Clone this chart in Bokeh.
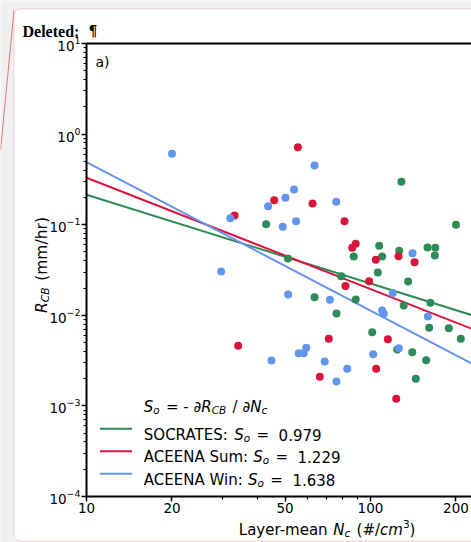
import math
import re
from bokeh.plotting import figure
from bokeh.models import (Range1d, FixedTicker, LogAxis, LogTickFormatter, BasicTickFormatter,
                          Label, BoxAnnotation, Arrow)
from bokeh.embed import file_html
from bokeh.resources import INLINE

# ---------------- data ----------------
soc_nc = [42.9, 128.5, 200.0, 51.2, 107.3, 87.3, 109.9, 126.2, 158.8, 169.1, 168.5, 106.1, 135.7,
          78.9, 63.5, 88.7, 130.9, 162.5, 75.9, 101.4, 160.9, 188.7, 208.0, 124.2, 140.3, 157.0, 144.4]
soc_r = [0.101, 0.298, 0.100, 0.0424, 0.0585, 0.0446, 0.0446, 0.0515, 0.056, 0.0556, 0.0457, 0.0297, 0.0236,
         0.027, 0.0158, 0.0149, 0.0128, 0.0138, 0.0105, 0.0065, 0.0073, 0.0072, 0.0055, 0.0042, 0.0039, 0.0032, 0.0020]

sum_nc = [33.2, 55.5, 45.8, 62.5, 81.0, 86.2, 88.7, 104.4, 125.5, 142.9, 81.6, 98.9, 71.3, 66.3,
          115.1, 104.7, 123.2, 34.2]
sum_r = [0.1265, 0.717, 0.186, 0.171, 0.109, 0.0556, 0.0615, 0.041, 0.0449, 0.0386, 0.0211, 0.0238, 0.0055,
         0.0021, 0.00545, 0.00257, 0.0012, 0.0046]

win_nc = [20.0, 32.1, 43.6, 50.2, 53.8, 49.1, 54.7, 63.5, 75.7, 140.6, 29.8, 51.3, 44.8, 55.9, 58.2, 59.4,
          69.0, 82.8, 75.9, 102.2, 125.8, 71.9, 109.9, 111.4, 119.8, 159.2]
win_r = [0.606, 0.118, 0.160, 0.198, 0.245, 0.0948, 0.109, 0.45, 0.179, 0.0485, 0.0304, 0.017, 0.00317,
         0.00382, 0.00382, 0.00438, 0.00309, 0.00257, 0.00186, 0.00372, 0.00433, 0.0148, 0.0113, 0.0104,
         0.0176, 0.0097]

fit_names = ["SOCRATES", "ACEENA Sum", "ACEENA Win"]
fit_slope = [0.979, 1.229, 1.638]
fit_r_at10 = [0.214, 0.33, 0.49]      # fitted R_CB at N_c = 10
fit_nc_span = [10, 600]
colors = ["seagreen", "crimson", "cornflowerblue"]

x_major = [10, 20, 50, 100, 200]
x_minor = [30, 40, 60, 70, 80, 90, 300, 400]
y_major = [1e-4, 1e-3, 1e-2, 1e-1, 1e0, 1e1]
y_minor = [m * 10.0 ** e for e in range(-4, 1) for m in range(2, 10)]
x_axis_lo, y_axis_lo, y_axis_hi = 10, 1e-4, 10

# ---------------- layout constants ----------------
W, H = 471, 542
FL, FT, FB = 86, 43, 496          # axes box (canvas px)
DEC_X = 284.0                      # px per decade (x)
DEC_Y = (FB - FT) / 5.0            # px per decade (y)
x_lo = 10 ** (1 - FL / DEC_X)
x_hi = 10 ** (1 + (W - FL) / DEC_X)
y_hi = 10 ** (1 + FT / DEC_Y)
y_lo = 10 ** (-4 - (H - FB) / DEC_Y)
PINK = "#e57373"
GREY = "#f0f0f0"
FONT = "DejaVu Sans"

p = figure(width=W, height=H, x_axis_type="log", y_axis_type="log",
           x_range=Range1d(x_lo, x_hi), y_range=Range1d(y_lo, y_hi),
           output_backend="svg", toolbar_location=None,
           min_border=0, min_border_left=0, min_border_right=0, min_border_top=0, min_border_bottom=0,
           background_fill_color=GREY, border_fill_color=GREY,
           outline_line_color=None)
p.xgrid.grid_line_color = None
p.ygrid.grid_line_color = None

xa = p.xaxis[0]
xa.ticker = FixedTicker(ticks=x_major, minor_ticks=x_minor)
xa.formatter = BasicTickFormatter()
xa.fixed_location = y_axis_lo
xa.bounds = (x_axis_lo, x_hi)
ya = p.yaxis[0]
ya.ticker = FixedTicker(ticks=y_major, minor_ticks=y_minor)
ya.formatter = LogTickFormatter()
ya.fixed_location = x_axis_lo
ya.bounds = (y_axis_lo, y_axis_hi)
for ax in (xa, ya):
    ax.axis_line_width = 2
    ax.axis_line_color = "black"
    ax.major_tick_line_width = 1.5
    ax.minor_tick_line_width = 1.2
    ax.major_tick_out = 5
    ax.major_tick_in = 0
    ax.minor_tick_out = 3
    ax.minor_tick_in = 0
    ax.major_label_text_font = FONT
    ax.major_label_text_font_size = "13.5px"
    ax.major_label_text_color = "black"
    ax.major_label_standoff = 1

top = LogAxis(ticker=FixedTicker(ticks=[]), axis_line_width=2, axis_line_color="black",
              major_tick_out=0, minor_tick_out=0, major_label_text_font_size="0px",
              fixed_location=y_axis_hi, bounds=(x_axis_lo, x_hi))
p.add_layout(top, "above")


def sx(cx):
    return cx


def sy(cy):
    return H - cy


# comment box (white, pink rounded border) and its connector
p.add_layout(BoxAnnotation(left=sx(13.5), right=sx(800), top=sy(8.5), bottom=sy(540.5),
                           left_units="screen", right_units="screen", top_units="screen", bottom_units="screen",
                           fill_color="white", fill_alpha=1.0, line_color=PINK, line_width=1,
                           border_radius=6, level="underlay"))
p.add_layout(Arrow(end=None, x_start=sx(13.5), y_start=sy(10), x_end=sx(0), y_end=sy(150),
                   start_units="screen", end_units="screen", line_color=PINK, line_width=1))

# ---------------- glyphs ----------------
for slope, a, c in zip(fit_slope, fit_r_at10, colors):
    ys = [a * (x / 10.0) ** (-slope) for x in fit_nc_span]
    p.line(fit_nc_span, ys, line_color=c, line_width=2)

p.scatter(soc_nc, soc_r, size=8, fill_color=colors[0], line_color=None)
p.scatter(sum_nc, sum_r, size=8, fill_color=colors[1], line_color=None)
p.scatter(win_nc, win_r, size=8, fill_color=colors[2], line_color=None)

# ---------------- texts ----------------
EM = {' ': 0.318, '.': 0.318, ':': 0.337, '=': 0.838, '-': 0.361, '/': 0.337, '(': 0.390, ')': 0.390,
      '#': 0.838, 'A': 0.684, 'B': 0.686, 'C': 0.698, 'E': 0.632, 'L': 0.557, 'N': 0.748, 'O': 0.787,
      'R': 0.695, 'S': 0.635, 'T': 0.611, 'W': 0.989, 'a': 0.613, 'c': 0.550, 'e': 0.615, 'h': 0.634,
      'i': 0.278, 'm': 0.974, 'n': 0.634, 'o': 0.612, 'r': 0.411, 'u': 0.634, 'y': 0.592, '\u2202': 0.519}
for d in "0123456789":
    EM[d] = 0.636
SUB_KERN = 1.5


def tw(s, size):
    return sum(EM.get(ch, 0.6) for ch in s) * size


def rich(cx, cy, pieces, rotated=False):
    for text, size, style, shift in pieces:
        for m in re.finditer(r"\S+(?: \S+)*", text):
            off = tw(text[:m.start()], size)
            if rotated:
                x, y, ang = cx + shift, cy - off, math.pi / 2
            else:
                x, y, ang = cx + off, cy + shift, 0
            p.add_layout(Label(x=sx(x), y=sy(y), x_units="screen", y_units="screen", text=m.group(0),
                               angle=ang, text_font=FONT, text_font_size=f"{size}px",
                               text_font_style=style, text_color="black",
                               text_baseline="alphabetic", text_align="left"))
        adv = tw(text, size) + (SUB_KERN if shift > 0 else 0)
        if rotated:
            cy -= adv
        else:
            cx += adv


FS, SS = 15, 10.5
# legend title
rich(143.3, 406, [("S", FS, "italic", 0), ("o", SS, "italic", 3), (" = - ", FS, "normal", 0),
                  ("\u2202R", FS, "italic", 0), ("CB", SS, "italic", 3), (" / ", FS, "normal", 0),
                  ("\u2202N", FS, "italic", 0), ("c", SS, "italic", 3)])
# legend entries
for i, (name, slope, c) in enumerate(zip(fit_names, fit_slope, colors)):
    base = 434 + 22.5 * i
    p.add_layout(Arrow(end=None, x_start=sx(99.5), y_start=sy(base - 5.7), x_end=sx(131.5), y_end=sy(base - 5.7),
                       start_units="screen", end_units="screen", line_color=c, line_width=2))
    rich(143.3, base, [(f"{name}: ", FS, "normal", 0), ("S", FS, "italic", 0), ("o", SS, "italic", 3),
                       (f" =  {slope:.3f}", FS, "normal", 0)])

# axis labels
rich(238.3, 529, [("Layer-mean ", FS, "normal", 0), ("N", FS, "italic", 0), ("c", SS, "italic", 3),
                  (" (#/", FS, "normal", 0), ("cm", FS, "italic", 0), ("3", SS, "normal", -6),
                  (")", FS, "normal", 0)])
YS, YSS = 15.5, 10.85
rich(41.5, 312.5, [("R", YS, "italic", 0), ("CB", YSS, "italic", 3), (" (mm/hr)", YS, "normal", 0)],
     rotated=True)

# panel label and comment header
p.add_layout(Label(x=sx(95), y=sy(61.5), x_units="screen", y_units="screen", text="a)",
                   text_font=FONT, text_font_size="14px", text_color="black", text_baseline="alphabetic"))
p.add_layout(Label(x=sx(22), y=sy(30.5), x_units="screen", y_units="screen", text="Deleted:",
                   text_font="Liberation Serif", text_font_style="bold", text_font_size="16px",
                   text_color="black", text_baseline="alphabetic"))
p.add_layout(Label(x=sx(88), y=sy(30.5), x_units="screen", y_units="screen", text="\u00b6",
                   text_font="DejaVu Serif", text_font_style="bold", text_font_size="14px",
                   text_color="black", text_baseline="alphabetic"))

open("out.html", "w").write(file_html(p, INLINE))
